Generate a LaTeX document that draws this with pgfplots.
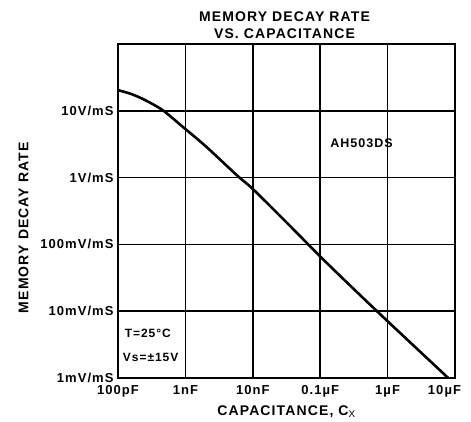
\documentclass[border=0pt]{standalone}
\usepackage{pgfplots}
\pgfplotsset{compat=1.18}
\usepackage{fontspec}
\setmainfont{Liberation Sans}[LetterSpace=8]
\begin{document}
\begin{tikzpicture}
\useasboundingbox (-118pt,-43pt) rectangle (353pt,378pt);
\begin{axis}[
  scale only axis, width=337pt, height=334pt,
  at={(0,0)}, anchor=south west,
  xmode=log, ymode=log,
  xmin=1e-10, xmax=1e-5, ymin=1e-3, ymax=1e2,
  xtick={1e-10,1e-9,1e-8,1e-7,1e-6,1e-5},
  xticklabels={100pF,1nF,10nF,0.1µF,1µF,\makebox[12pt][r]{10µF}},
  ytick={1e-3,1e-2,1e-1,1,10},
  yticklabels={1mV/mS,10mV/mS,100mV/mS,1V/mS,10V/mS},
  minor tick num=0, minor xtick={}, minor ytick={},
  major tick length=0pt,
  grid=major,
  major grid style={black, line width=1.6pt},
  axis line style={black, line width=2.3pt},
  tick label style={font=\fontsize{13}{14}\selectfont\bfseries},
  xticklabel style={yshift=-4pt},
  yticklabel style={xshift=-1pt},
  log basis x=10, log basis y=10,
  title={MEMORY DECAY RATE\\VS. CAPACITANCE},
  title style={align=center, font=\fontsize{14}{17}\selectfont\bfseries, yshift=-4pt, xshift=-2pt},
  xlabel={CAPACITANCE, C$_{\mathrm{X}}$},
  xlabel style={font=\fontsize{14}{16}\selectfont\bfseries, at={(axis description cs:0.5,-0.1)}, anchor=center},
  ylabel={MEMORY DECAY RATE},
  ylabel style={font=\fontsize{14}{16}\selectfont\bfseries, at={(axis description cs:-0.28,0.45)}, anchor=center, rotate=0},
]
\addplot[black, line width=2.6pt, smooth, tension=0.5] coordinates {
(1.0e-10,20.4)
(1.585e-10,17.8)
(2.512e-10,14.5)
(4.61e-10,10.2)
(9.4e-10,5.62)
(2.0e-9,2.95)
(5.89e-9,1.07)
(1.0e-8,0.676)
(3.16e-8,0.214)
(1.0e-7,0.066)
(3.16e-7,0.0214)
(1.0e-6,0.00708)
(7.94e-6,0.001)
};
\node[font=\fontsize{12.5}{14}\selectfont\bfseries] at (axis cs:4.1e-7,3.3) {AH503DS};
\node[font=\fontsize{12}{14}\selectfont\bfseries, anchor=west] at (axis cs:1.12e-10,4.7e-3) {T=25°C};
\node[font=\fontsize{12}{14}\selectfont\bfseries, anchor=west] at (axis cs:1.05e-10,2.05e-3) {Vs=±15V};
\end{axis}
\end{tikzpicture}
\end{document}
